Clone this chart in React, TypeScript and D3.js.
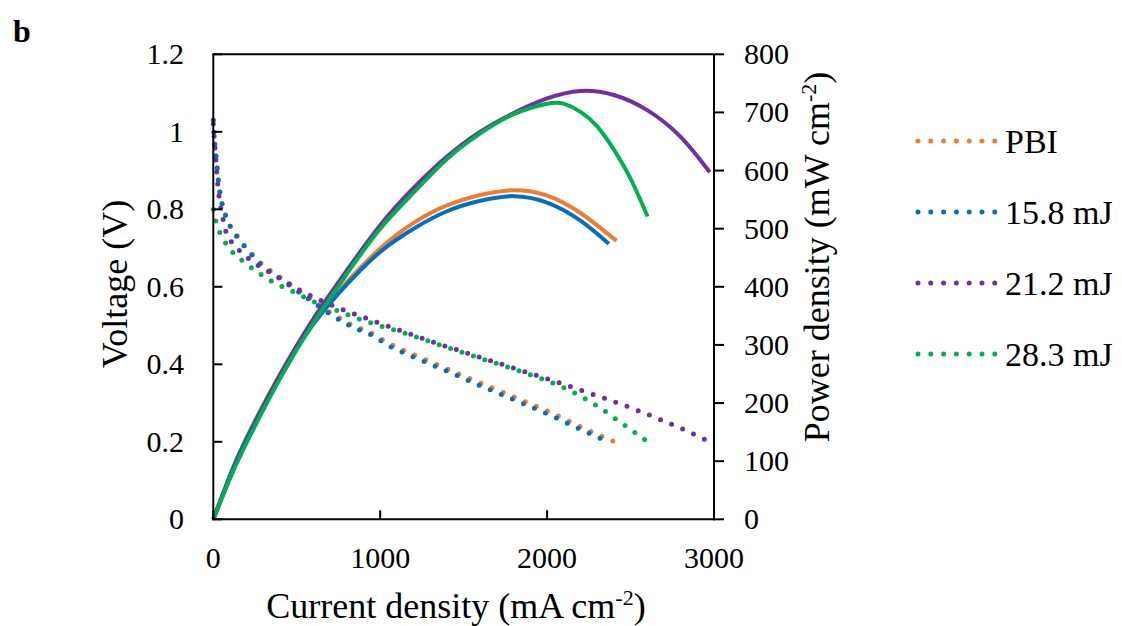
import React from "react";
import * as d3 from "d3";

// ---------- data ----------
const seriesNames = ["PBI", "15.8 mJ", "21.2 mJ", "28.3 mJ"];
const seriesColors = ["#ED7D31", "#0070C0", "#7030A0", "#00B050"];

// Voltage (V) vs current density (mA cm-2)
const pbiVoltI = [0, 5, 10, 18, 25, 32, 42, 56, 80, 110, 150, 194, 294, 409, 550, 709, 829, 968, 1028, 1228, 1428, 1627, 1827, 2027, 2200, 2410];
const pbiVolt = [1.03, 0.99, 0.96, 0.93, 0.9, 0.868, 0.838, 0.809, 0.779, 0.75, 0.728, 0.703, 0.658, 0.622, 0.58, 0.532, 0.502, 0.476, 0.46, 0.42, 0.383, 0.347, 0.311, 0.275, 0.239, 0.199];

const mj158VoltI = [0, 5, 10, 18, 25, 32, 42, 56, 80, 110, 150, 194, 294, 409, 550, 709, 829, 968, 1028, 1228, 1428, 1627, 1827, 2027, 2200, 2365];
const mj158Volt = [1.03, 0.99, 0.96, 0.93, 0.9, 0.867, 0.837, 0.807, 0.777, 0.748, 0.725, 0.7, 0.654, 0.618, 0.575, 0.527, 0.497, 0.471, 0.454, 0.414, 0.377, 0.34, 0.304, 0.267, 0.232, 0.2];

const mj212VoltI = [0, 8, 15, 22, 30, 42, 58, 74, 110, 160, 250, 350, 529, 725, 998, 1300, 1600, 1800, 2027, 2156, 2296, 2372, 2635, 2800, 2975];
const mj212Volt = [1.02, 0.97, 0.93, 0.89, 0.85, 0.81, 0.775, 0.745, 0.715, 0.692, 0.66, 0.635, 0.589, 0.55, 0.506, 0.46, 0.418, 0.39, 0.359, 0.34, 0.319, 0.308, 0.265, 0.235, 0.2];

const mj283VoltI = [0, 6, 26, 94, 200, 320, 519, 589, 719, 849, 988, 1118, 1268, 1468, 1677, 1887, 2087, 2276, 2450, 2600];
const mj283Volt = [0.8, 0.785, 0.755, 0.701, 0.659, 0.622, 0.579, 0.564, 0.542, 0.521, 0.501, 0.484, 0.463, 0.434, 0.405, 0.375, 0.342, 0.299, 0.247, 0.201];

// Power density (mW cm-2) vs current density (mA cm-2)
const pbiPowI = [0, 100, 200, 400, 600, 800, 1000, 1200, 1400, 1600, 1800, 2000, 2200, 2416];
const pbiPow = [0, 76, 141, 250, 339, 408, 466, 510, 540, 558, 566, 557, 527, 479];

const mj158PowI = [0, 100, 200, 400, 600, 800, 1000, 1200, 1400, 1600, 1800, 2000, 2200, 2370];
const mj158Pow = [0, 75, 139, 248, 336, 404, 460, 500, 530, 548, 556, 545, 514, 474];

const mj212PowI = [0, 100, 200, 400, 600, 800, 1000, 1200, 1400, 1600, 1800, 2000, 2200, 2400, 2600, 2800, 2975];
const mj212Pow = [0, 72, 135, 248, 345, 428, 506, 570, 624, 667, 699, 724, 737, 730, 704, 658, 597];

const mj283PowI = [0, 100, 200, 400, 600, 800, 1000, 1200, 1400, 1600, 1800, 2000, 2100, 2200, 2300, 2400, 2500, 2602];
const mj283Pow = [0, 70, 132, 242, 338, 422, 500, 562, 620, 664, 697, 715, 715, 701, 676, 636, 586, 521];

const xTicks = [0, 1000, 2000, 3000];
const yLeftTicks = [0, 0.2, 0.4, 0.6, 0.8, 1.0, 1.2];
const yRightTicks = [0, 100, 200, 300, 400, 500, 600, 700, 800];

const voltSeries = [
  { xs: pbiVoltI, ys: pbiVolt },
  { xs: mj158VoltI, ys: mj158Volt },
  { xs: mj212VoltI, ys: mj212Volt },
  { xs: mj283VoltI, ys: mj283Volt },
];
const powSeries = [
  { xs: pbiPowI, ys: pbiPow },
  { xs: mj158PowI, ys: mj158Pow },
  { xs: mj212PowI, ys: mj212Pow },
  { xs: mj283PowI, ys: mj283Pow },
];

// ---------- layout ----------
const W = 1122;
const H = 626;
const left = 213.3;
const right = 714;
const top = 54.3;
const bottom = 519.3;
const FONT = "'Liberation Serif', 'Times New Roman', serif";

export default function App() {
  const x = d3.scaleLinear().domain([0, 3000]).range([left, right]);
  const yL = d3.scaleLinear().domain([0, 1.2]).range([bottom, top]);
  const yR = d3.scaleLinear().domain([0, 800]).range([bottom, top]);

  const vLine = d3
    .line<[number, number]>()
    .x((d) => x(d[0]))
    .y((d) => yL(d[1]))
    .curve(d3.curveMonotoneX);
  const pLine = d3
    .line<[number, number]>()
    .x((d) => x(d[0]))
    .y((d) => yR(d[1]))
    .curve(d3.curveNatural);

  const pts = (s: { xs: number[]; ys: number[] }) =>
    s.xs.map((v, i) => [v, s.ys[i]] as [number, number]);

  const tickFont = 30;
  const titleFont = 36;
  const legendFont = 34;
  const legendY0 = 141;
  const legendStep = 71;

  return (
    <svg
      width={W}
      height={H}
      style={{ position: "absolute", left: 0, top: 0, background: "#fff" }}
      fontFamily={FONT}
    >
      <rect x={0} y={0} width={W} height={H} fill="#fff" />
      <text x={13} y={42} fontSize={32} fontWeight="bold" fill="#000">
        b
      </text>

      {/* voltage dotted lines */}
      {voltSeries.map((s, i) => (
        <path
          key={"v" + i}
          d={vLine(pts(s)) || ""}
          fill="none"
          stroke={seriesColors[i]}
          strokeWidth={5}
          strokeLinecap="round"
          strokeDasharray="0 12"
        />
      ))}
      {/* power solid lines */}
      {powSeries.map((s, i) => (
        <path
          key={"p" + i}
          d={pLine(pts(s)) || ""}
          fill="none"
          stroke={seriesColors[i]}
          strokeWidth={4}
          strokeLinejoin="round"
        />
      ))}

      {/* axes */}
      <g stroke="#000" strokeWidth={2} fill="none">
        <line x1={left} y1={top} x2={left} y2={bottom + 1} />
        <line x1={left - 1} y1={bottom} x2={right + 1} y2={bottom} />
        <line x1={right} y1={top} x2={right} y2={bottom + 1} />
        <line x1={left - 1} y1={top} x2={right} y2={top} />
        {yLeftTicks.map((t) => (
          <line key={"lt" + t} x1={left} x2={left + 9} y1={yL(t)} y2={yL(t)} />
        ))}
        {yRightTicks.map((t) => (
          <line key={"rt" + t} x1={right} x2={right + 10} y1={yR(t)} y2={yR(t)} />
        ))}
        {xTicks.map((t) => (
          <line key={"xt" + t} x1={x(t)} x2={x(t)} y1={bottom} y2={bottom - 9} />
        ))}
      </g>

      {/* tick labels */}
      <g fontSize={tickFont} fill="#000">
        {yLeftTicks.map((t) => (
          <text key={"ll" + t} x={184} y={yL(t) + 10} textAnchor="end">
            {d3.format("~g")(t)}
          </text>
        ))}
        {yRightTicks.map((t) => (
          <text key={"rl" + t} x={744} y={yR(t) + 10} textAnchor="start">
            {t}
          </text>
        ))}
        {xTicks.map((t) => (
          <text key={"xl" + t} x={x(t)} y={568} textAnchor="middle">
            {t}
          </text>
        ))}
      </g>

      {/* axis titles */}
      <text
        transform={`translate(127, 284) rotate(-90)`}
        textAnchor="middle"
        fontSize={titleFont}
        fill="#000"
      >
        Voltage (V)
      </text>
      <text
        transform={`translate(829, 257) rotate(-90)`}
        textAnchor="middle"
        fontSize={titleFont}
        fill="#000"
      >
        Power density (mW cm
        <tspan fontSize={22} dy={-13}>-2</tspan>
        <tspan dy={13}>)</tspan>
      </text>
      <text x={456} y={618} textAnchor="middle" fontSize={titleFont} fill="#000">
        Current density (mA cm
        <tspan fontSize={22} dy={-13}>-2</tspan>
        <tspan dy={13}>)</tspan>
      </text>

      {/* legend */}
      {seriesNames.map((n, i) => {
        const ly = legendY0 + i * legendStep;
        return (
          <g key={"lg" + i}>
            <line
              x1={918}
              x2={996}
              y1={ly}
              y2={ly}
              stroke={seriesColors[i]}
              strokeWidth={5}
              strokeLinecap="round"
              strokeDasharray="0 12.8"
            />
            <text x={1005} y={ly + 12} fontSize={legendFont} fill="#000">
              {n}
            </text>
          </g>
        );
      })}
    </svg>
  );
}
